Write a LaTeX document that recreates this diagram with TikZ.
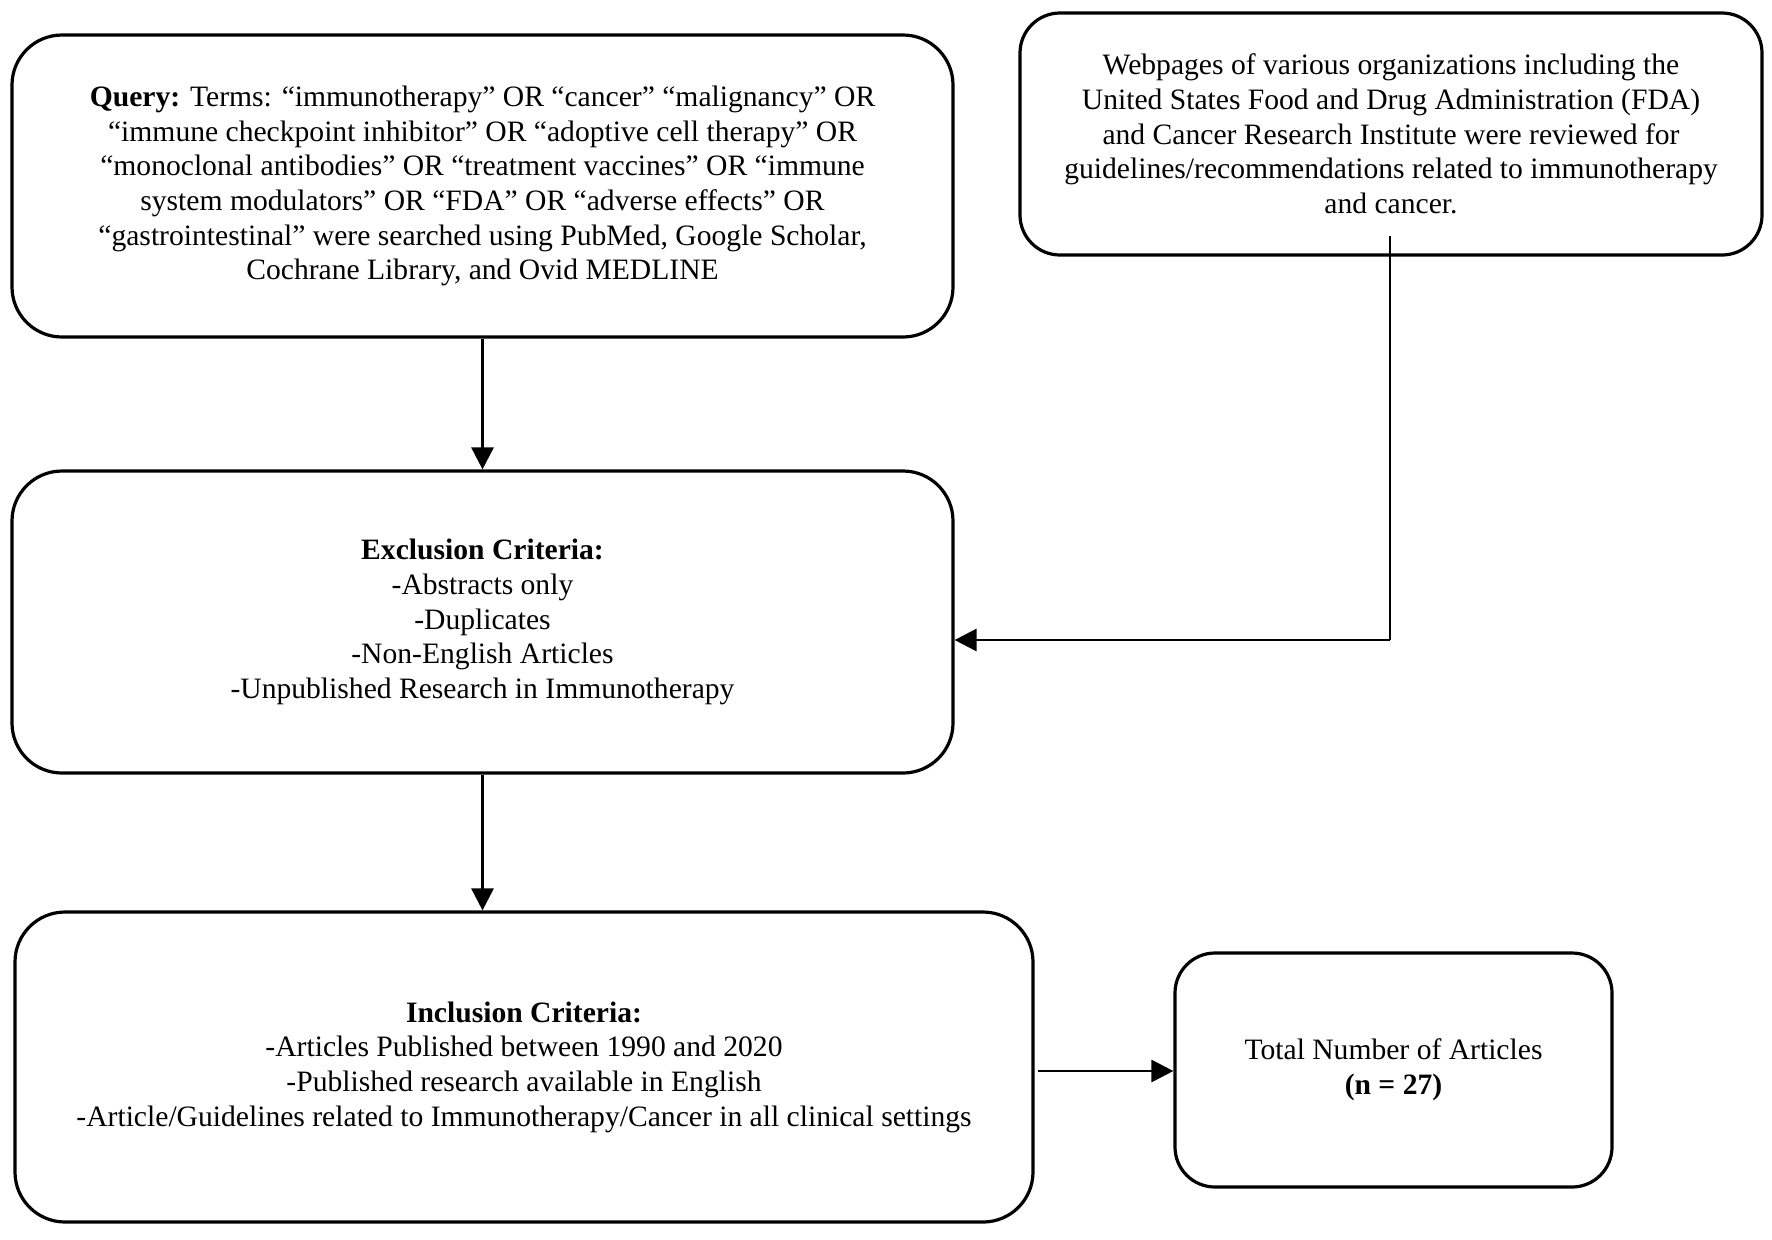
\documentclass[tikz,border=0pt]{standalone}
\usepackage{fontspec}
\setmainfont{Liberation Serif}
\usetikzlibrary{arrows.meta}
\begin{document}
\begin{tikzpicture}[x=0.5pt,y=-0.5pt,
  box/.style={draw, line width=1.6pt, rounded corners=25pt, align=center, inner sep=0pt,
    font=\fontsize{14.8}{17.35}\selectfont},
  conn/.style={line width=1.4pt, -{Triangle[length=11pt,width=11pt]}},
  thinline/.style={line width=1.0pt},
]
\useasboundingbox (0,0) rectangle (1772,1239);
\fill[white] (0,0) rectangle (1772,1239);

\node[box, minimum width=470.5pt, minimum height=151pt] (query) at (482.5,186)
 {\textbf{Query:} Terms: “immunotherapy” OR “cancer” “malignancy” OR\\
  “immune checkpoint inhibitor” OR “adoptive cell therapy” OR\\
  “monoclonal antibodies” OR “treatment vaccines” OR “immune\\
  system modulators” OR “FDA” OR “adverse effects” OR\\
  “gastrointestinal” were searched using PubMed, Google Scholar,\\
  Cochrane Library, and Ovid MEDLINE};

\node[box, rounded corners=20pt, minimum width=371pt, minimum height=121pt] (web) at (1391,134)
 {Webpages of various organizations including the\\
  United States Food and Drug Administration (FDA)\\
  and Cancer Research Institute were reviewed for\\
  guidelines/recommendations related to immunotherapy\\
  and cancer.};

\node[box, minimum width=470.5pt, minimum height=151pt] (exc) at (482.5,622)
 {\textbf{Exclusion Criteria:}\\
  -Abstracts only\\
  -Duplicates\\
  -Non-English Articles\\
  -Unpublished Research in Immunotherapy};

\node[box, minimum width=509pt, minimum height=155pt] (inc) at (524,1067)
 {\textbf{Inclusion Criteria:}\\
  -Articles Published between 1990 and 2020\\
  -Published research available in English\\
  -Article/Guidelines related to Immunotherapy/Cancer in all clinical settings};

\node[box, rounded corners=20pt, minimum width=218.5pt, minimum height=117pt] (tot) at (1393.5,1070)
 {Total Number of Articles\\
  \textbf{(n = 27)}};

\draw[conn] (query.south) -- (exc.north);
\draw[conn] (exc.south) -- (exc.south |- inc.north);

\coordinate (wtop) at (1390,236);
\coordinate (wturn) at (1390,640);
\draw[thinline] (wtop) -- (wturn);
\draw[conn] (wturn) -- (wturn -| exc.east);

\coordinate (istart) at (1038,1071);
\draw[conn] (istart) -- (istart -| tot.west);
\end{tikzpicture}
\end{document}
